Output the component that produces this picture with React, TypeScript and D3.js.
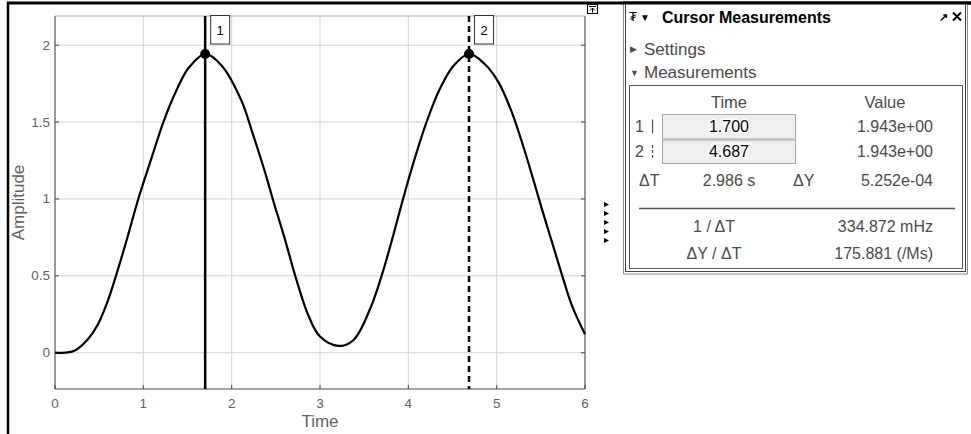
import React from "react";
import * as d3 from "d3";

// signal samples (time in s, amplitude)
const timeSamples = [
  0, 0.11, 0.226, 0.377, 0.49, 0.6, 0.69, 0.81, 0.943, 1.095, 1.227, 1.37,
  1.51, 1.7, 1.89, 2.11, 2.23, 2.38, 2.47, 2.6, 2.72, 2.87, 3.0, 3.21, 3.38,
  3.57, 3.7, 3.83, 3.94, 4.06, 4.21, 4.36, 4.51, 4.687, 4.87, 5.02, 5.17,
  5.285, 5.4, 5.51, 5.625, 5.74, 5.85, 6.0,
];
const ampSamples = [
  0, 0.0, 0.015, 0.091, 0.189, 0.34, 0.5, 0.73, 1.0, 1.27, 1.5, 1.7, 1.85,
  1.943, 1.865, 1.64, 1.44, 1.17, 0.99, 0.744, 0.5, 0.24, 0.105, 0.044, 0.083,
  0.289, 0.505, 0.765, 1.0, 1.24, 1.507, 1.72, 1.865, 1.943, 1.875, 1.76,
  1.567, 1.372, 1.155, 0.939, 0.722, 0.505, 0.31, 0.12,
];

const xTicks = [0, 1, 2, 3, 4, 5, 6];
const yTicks = [0, 0.5, 1, 1.5, 2];

// cursors
const cursorIds = ["1", "2"];
const cursorTimes = [1.7, 4.687];
const cursorValues = [1.943, 1.943];
const cursorTimeText = ["1.700", "4.687"];
const cursorValueText = ["1.943e+00", "1.943e+00"];
const deltaText = ["2.986 s", "5.252e-04"];
const derivedLabels = ["1 / \u0394T", "\u0394Y / \u0394T"];
const derivedValues = ["334.872 mHz", "175.881 (/Ms)"];

const FONT = "'Liberation Sans', Arial, sans-serif";
const tickColor = "#5f5f5f";
const panelText = "#4a4a4a";

export default function App() {
  const W = 971;
  const H = 434;
  const plot = { left: 55, right: 585, top: 16, bottom: 389 };

  const x = d3.scaleLinear().domain([0, 6]).range([plot.left, plot.right]);
  const y = d3
    .scaleLinear()
    .domain([-0.236, 2.19])
    .range([plot.bottom, plot.top]);

  const trace = d3
    .line<number>()
    .x((d, i) => x(timeSamples[i]))
    .y((d) => y(d))
    .curve(d3.curveCatmullRom.alpha(0.5))(ampSamples);

  const rowY = [114.5, 140];
  const rowH = [24.5, 23.5];
  const rightCol = 933;
  const midCol = 729;

  return (
    <svg
      width={W}
      height={H}
      style={{ position: "absolute", left: 0, top: 0, background: "#fff" }}
      fontFamily={FONT}
    >
      {/* outer window frame */}
      <line x1={7} x2={W} y1={3} y2={3} stroke="#000" strokeWidth={3} />
      <line x1={8} x2={8} y1={2} y2={H} stroke="#000" strokeWidth={2.5} />

      {/* grid */}
      {xTicks.map((t) => (
        <line
          key={"gx" + t}
          x1={x(t)}
          x2={x(t)}
          y1={plot.top}
          y2={plot.bottom}
          stroke="#d4d4d4"
          strokeWidth={1}
        />
      ))}
      {yTicks.map((t) => (
        <line
          key={"gy" + t}
          x1={plot.left}
          x2={plot.right}
          y1={y(t)}
          y2={y(t)}
          stroke="#d4d4d4"
          strokeWidth={1}
        />
      ))}

      {/* axes box */}
      <line x1={plot.left} x2={plot.right} y1={plot.top} y2={plot.top} stroke="#b0b0b0" />
      <line x1={plot.left} x2={plot.right} y1={plot.bottom} y2={plot.bottom} stroke="#4a4a4a" />
      <line x1={plot.left} x2={plot.left} y1={plot.top} y2={plot.bottom} stroke="#4a4a4a" />
      <line x1={plot.right} x2={plot.right} y1={plot.top} y2={plot.bottom} stroke="#4a4a4a" />

      {/* ticks + labels */}
      {xTicks.map((t) => (
        <g key={"tx" + t}>
          <line x1={x(t)} x2={x(t)} y1={plot.bottom} y2={plot.bottom - 4} stroke="#4a4a4a" />
          <text
            x={x(t)}
            y={plot.bottom + 19}
            textAnchor="middle"
            fontSize={13.5}
            fill={tickColor}
          >
            {t}
          </text>
        </g>
      ))}
      {yTicks.map((t) => (
        <g key={"ty" + t}>
          <line x1={plot.left} x2={plot.left + 4} y1={y(t)} y2={y(t)} stroke="#4a4a4a" />
          <line x1={plot.right} x2={plot.right - 4} y1={y(t)} y2={y(t)} stroke="#4a4a4a" />
          <text
            x={plot.left - 5}
            y={y(t) + 4.5}
            textAnchor="end"
            fontSize={13.5}
            fill={tickColor}
          >
            {t}
          </text>
        </g>
      ))}
      <text
        x={(plot.left + plot.right) / 2}
        y={427}
        textAnchor="middle"
        fontSize={17}
        fill={tickColor}
      >
        Time
      </text>
      <text
        transform={`translate(24,${(plot.top + plot.bottom) / 2}) rotate(-90)`}
        textAnchor="middle"
        fontSize={17}
        fill={tickColor}
      >
        Amplitude
      </text>

      {/* signal */}
      <path d={trace || ""} fill="none" stroke="#000" strokeWidth={2.2} />

      {/* cursors */}
      {cursorTimes.map((t, i) => (
        <g key={"c" + i}>
          <line
            x1={x(t)}
            x2={x(t)}
            y1={plot.top}
            y2={plot.bottom}
            stroke="#000"
            strokeWidth={2.5}
            strokeDasharray={i === 1 ? "6,4" : undefined}
          />
          <rect
            x={x(t) + 5.5}
            y={plot.top - 0.5}
            width={19}
            height={28.5}
            fill="#fff"
            stroke="#333"
            strokeWidth={1}
          />
          <text
            x={x(t) + 15}
            y={plot.top + 19}
            textAnchor="middle"
            fontSize={13}
            fill="#000"
          >
            {cursorIds[i]}
          </text>
          <circle cx={x(t)} cy={y(cursorValues[i])} r={5} fill="#000" />
        </g>
      ))}

      {/* undock icon */}
      <rect x={587.5} y={4.5} width={10} height={9} fill="#fff" stroke="#000" />
      <line x1={589} x2={596} y1={6.5} y2={6.5} stroke="#000" />
      <path d="M592.5,12.5 L592.5,8 M590,10.5 L592.5,8 L595,10.5" fill="none" stroke="#000" />

      {/* collapsed-panel arrows */}
      {d3.range(5).map((k) => (
        <path
          key={"ar" + k}
          d={`M604,${202 + k * 9} L609,${204.5 + k * 9} L604,${207 + k * 9} Z`}
          fill="#000"
        />
      ))}

      {/* measurement panel */}
      <rect x={623.5} y={3} width={344} height={271} fill="#fff" stroke="#8a8a8a" />
      <rect x={625.5} y={3} width={340} height={268.5} fill="#fff" stroke="#404040" />
      <line x1={623} x2={W} y1={3} y2={3} stroke="#000" strokeWidth={3} />

      <text x={629} y={21} fontSize={13} fill="#000">
        {"\u20AE"}
      </text>
      <text x={640} y={21} fontSize={10} fill="#000">
        {"\u25BC"}
      </text>
      <text x={662} y={23} fontSize={16} fontWeight="bold" fill="#000">
        Cursor Measurements
      </text>
      <text x={939} y={21} fontSize={11} fontWeight="bold" fill="#000">
        {"\u2197"}
      </text>
      <path d="M953,12.5 L961,20.5 M961,12.5 L953,20.5" stroke="#000" strokeWidth={2} />

      <text x={630} y={52} fontSize={9} fill={panelText}>
        {"\u25B6"}
      </text>
      <text x={644} y={54.5} fontSize={17} fill={panelText}>
        Settings
      </text>
      <text x={630} y={76} fontSize={9} fill={panelText}>
        {"\u25BC"}
      </text>
      <text x={644} y={77.5} fontSize={17} fill={panelText}>
        Measurements
      </text>

      <rect x={629.5} y={85.5} width={333} height={183} fill="none" stroke="#555" />

      <text x={midCol} y={108.3} textAnchor="middle" fontSize={16.5} fill={panelText}>
        Time
      </text>
      <text x={885} y={108.3} textAnchor="middle" fontSize={16.5} fill={panelText}>
        Value
      </text>

      {cursorIds.map((id, i) => (
        <g key={"row" + i}>
          <text x={635} y={rowY[i] + 17} fontSize={16} fill={panelText}>
            {id}
          </text>
          <line
            x1={652.5}
            x2={652.5}
            y1={rowY[i] + 5}
            y2={rowY[i] + 19}
            stroke={panelText}
            strokeWidth={1.2}
            strokeDasharray={i === 1 ? "3,2" : undefined}
          />
          <rect
            x={662.5}
            y={rowY[i]}
            width={133}
            height={rowH[i]}
            fill="#efefef"
            stroke="#a5a5a5"
          />
          <text
            x={midCol}
            y={rowY[i] + 17}
            textAnchor="middle"
            fontSize={16}
            fill="#000"
            stroke="#fff"
            strokeWidth={3}
            paintOrder="stroke"
          >
            {cursorTimeText[i]}
          </text>
          <text x={rightCol} y={rowY[i] + 17} textAnchor="end" fontSize={16} fill={panelText}>
            {cursorValueText[i]}
          </text>
        </g>
      ))}

      <text x={639} y={185.5} fontSize={16} fill={panelText}>
        {"\u0394T"}
      </text>
      <text x={midCol} y={185.5} textAnchor="middle" fontSize={16} fill={panelText}>
        {deltaText[0]}
      </text>
      <text x={793} y={185.5} fontSize={16} fill={panelText}>
        {"\u0394Y"}
      </text>
      <text x={rightCol} y={185.5} textAnchor="end" fontSize={16} fill={panelText}>
        {deltaText[1]}
      </text>

      <line x1={639} x2={955} y1={208.5} y2={208.5} stroke="#555" strokeWidth={1.5} />

      {derivedLabels.map((lab, i) => (
        <g key={"dv" + i}>
          <text
            x={714}
            y={231.7 + i * 27.6}
            textAnchor="middle"
            fontSize={16}
            fill={panelText}
          >
            {lab}
          </text>
          <text
            x={rightCol}
            y={231.7 + i * 27.6}
            textAnchor="end"
            fontSize={16}
            fill={panelText}
          >
            {derivedValues[i]}
          </text>
        </g>
      ))}
    </svg>
  );
}
